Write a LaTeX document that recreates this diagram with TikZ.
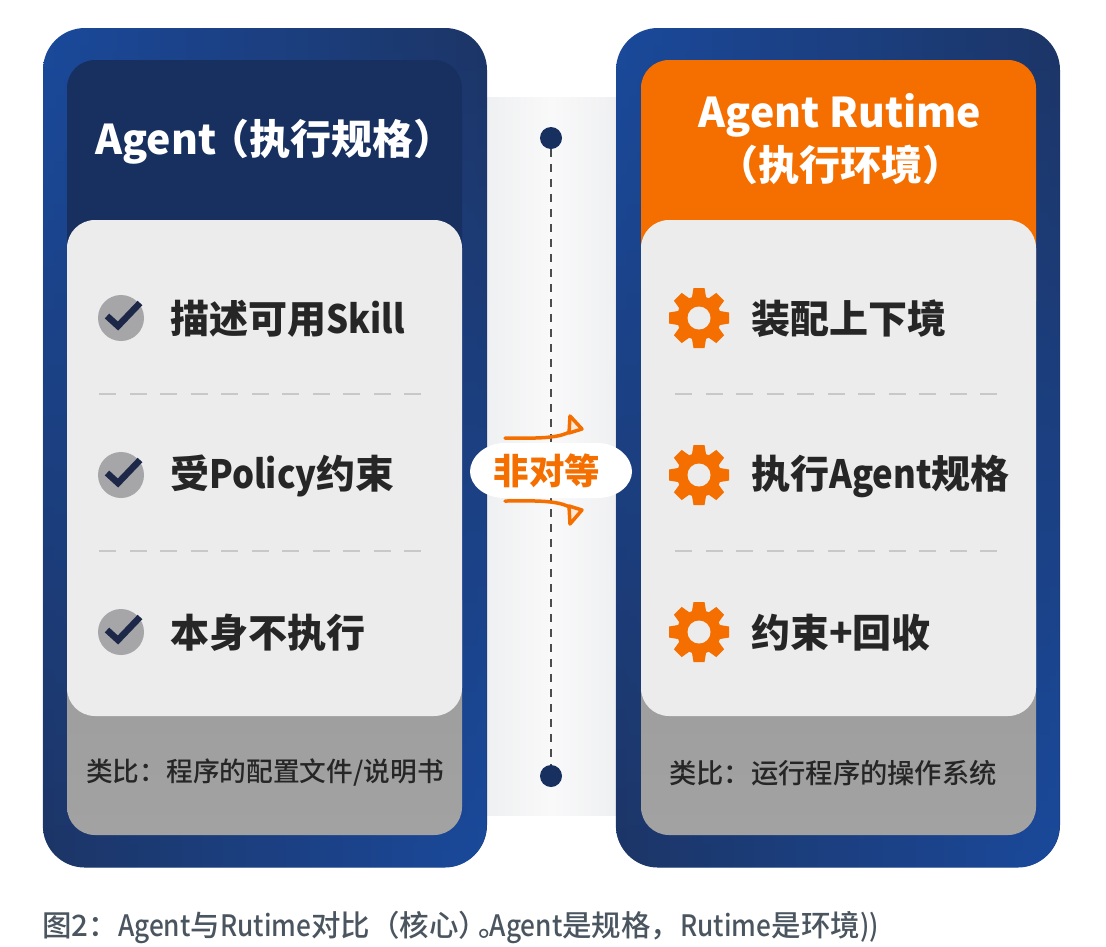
\documentclass[tikz,border=0pt]{standalone}
\usepackage{graphicx}
\usepackage{fontspec}
\setmainfont{Noto Sans CJK SC}
\newfontfamily\medf{Noto Sans CJK SC Medium}
\usetikzlibrary{fadings,positioning}
\definecolor{navy}{HTML}{17305F}
\definecolor{navyb}{HTML}{1D3566}
\definecolor{royal}{HTML}{1A4A9C}
\definecolor{orng}{HTML}{F56F00}
\definecolor{cardc}{HTML}{ECECED}
\definecolor{grayA}{HTML}{8F8F8F}
\definecolor{grayB}{HTML}{A2A2A2}
\definecolor{dashc}{HTML}{C8C8C8}
\definecolor{ink}{HTML}{262626}
\definecolor{capc}{HTML}{4A5560}
\definecolor{checkc}{HTML}{A6A6A8}
\definecolor{checkk}{HTML}{1D2747}
\definecolor{stripc}{HTML}{EFF0F1}
\definecolor{stripm}{HTML}{F9F9FA}
\newcommand\lat[1]{\scalebox{.89}[1]{#1}}
\tikzset{
  box/.style={rectangle,minimum width=#1,inner sep=0pt,outer sep=0pt},
  outertop/.style={box=444pt,minimum height=839pt,rounded corners=42pt,left color=royal,right color=navyb},
  outerbot/.style={box=444pt,minimum height=839pt,rounded corners=42pt,left color=navyb,right color=royal,path fading=north},
  inner/.style={box=395pt,minimum height=775pt,rounded corners=28pt},
  card/.style={box=395pt,minimum height=496pt,rounded corners=28pt,fill=cardc},
  titletext/.style={text=white,font=\bfseries\fontsize{41}{53}\selectfont,align=center},
  itemtext/.style={text=ink,anchor=west,inner sep=0pt,font=\bfseries\fontsize{39}{44}\selectfont},
  notetext/.style={text=ink,anchor=west,inner sep=0pt,font=\medf\fontsize{26.7}{30}\selectfont},
  sep/.style={dashc,line width=2pt,dash pattern=on 17.2pt off 13.3pt},
  dot/.style={circle,fill=navy,minimum size=22pt,inner sep=0pt},
  checkicon/.pic={
    \fill[checkc] (0,0) circle (23);
    \draw[checkk,line width=6.5pt,line join=miter] (-14,-2) -- (-3,8) -- (19,-15);
  },
  gearicon/.pic={
    \fill[orng] (0,0) circle (22);
    \foreach \a in {0,45,...,315}{
      \fill[orng,rotate=\a] (-7.5,-18) -- (-5.5,-30) -- (5.5,-30) -- (7.5,-18) -- cycle;
    }
    \fill[cardc] (0,0) circle (11.5);
  },
  fork/.style={orng,line width=3.5pt,line cap=round},
  forkhead/.style={orng,line width=3.5pt,fill=white!85!orng,line join=round},
}
\begin{document}
\begin{tikzpicture}[x=1pt,y=-1pt]
\useasboundingbox[fill=white] (0,0) rectangle (1106,946);

% centre strip
\node[box=129pt,minimum height=718pt,left color=stripc,right color=stripc,middle color=stripm] (strip) at (551.5,456) {};

% left outer panel
\node[outertop] (lo) at (265,447.5) {};
\node[outerbot] (lob) at (265,447.5) {};
% right outer panel
\node[outertop] (ro) at (838,447.5) {};
\node[outerbot] (rob) at (838,447.5) {};

% inner panels
\begin{scope}
\clip (0,600) rectangle (1106,946);
\node[inner,top color=grayA,bottom color=grayB] (lg) at (264.5,447.5) {};
\node[inner,top color=grayA,bottom color=grayB] (rg) at (838.5,447.5) {};
\end{scope}
\begin{scope}
\clip (0,0) rectangle (1106,300);
\node[inner,fill=navy] (lh) at (264.5,447.5) {};
\node[inner,fill=orng] (rh) at (838.5,447.5) {};
\end{scope}
\node[card] (lc) at (264.5,468) {};
\node[card] (rc) at (838.5,468) {};

% titles
\node[titletext,anchor=west,inner sep=0pt] (t1) at (95,142) {Agent\hspace{-8pt}（执行规格）};
\node[titletext] (t2) at (840,139) {Agent Rutime\\（执行环境）};

% left items
\pic at (121,318) {checkicon};
\pic at (121,475) {checkicon};
\pic at (121,632) {checkicon};
\node[itemtext] (a1) at (170,319) {描述可用\lat{Skill}};
\node[itemtext] (a2) at (170,476) {受\lat{Policy}约束};
\node[itemtext] (a3) at (170,633) {本身不执行};
\draw[sep] (99,394) -- (421,394);
\draw[sep] (99,551) -- (421,551);

% right items
\pic at (699,318) {gearicon};
\pic at (699,475) {gearicon};
\pic at (699,632) {gearicon};
\node[itemtext] (b1) at (751,319) {装配上下境};
\node[itemtext] (b2) at (751,476) {执行\lat{Agent}规格};
\node[itemtext] (b3) at (751,633) {约束+回收};
\draw[sep] (675,394) -- (998,394);
\draw[sep] (675,551) -- (998,551);

% notes
\node[notetext] (n1) at (86,773) {类比：程序的配置文件/说明书};
\node[notetext,font=\medf\fontsize{27.3}{30}\selectfont] (n2) at (669,773) {类比：运行程序的操作系统};

% centre line
\node[dot] (d1) at (551,138) {};
\node[dot] (d2) at (551,776) {};
\draw[black!70,line width=2.5pt,dash pattern=on 8pt off 7pt] (d1) -- (d2);

% bubble
\fill[white] (505,443) -- (597,443) .. controls (618,443) and (632,458) .. (632,471.5)
  .. controls (632,485) and (618,498) .. (597,498) -- (505,498)
  .. controls (484,498) and (470,485) .. (470,471.5) .. controls (470,458) and (484,443) .. (505,443) -- cycle;
\node[text=orng,font=\bfseries\fontsize{35.5}{40}\selectfont,inner sep=0pt] (lab) at (547,471) {非对等};

% arrows
\coordinate (u0) at (505,438);
\coordinate (u1) at (574,428);
\coordinate (l0) at (505,501);
\coordinate (l1) at (574,511);
\draw[fork] (u0) .. controls (530,438) and (565,440) .. (u1);
\draw[forkhead] (570,416) -- (582,429) -- (569,433) -- cycle;
\draw[fork] (l0) .. controls (530,501) and (565,499) .. (l1);
\draw[forkhead] (570,524) -- (582,510) -- (569,506) -- cycle;

% caption
\node[anchor=west,inner sep=0pt,text=capc,font=\medf\fontsize{29.5}{33}\selectfont] (cap) at (42,927) {图2：\lat{Agent}与\lat{Rutime}对比（核心）\hspace{-10pt}。\hspace{-18pt}\lat{Agent}是规格，\lat{Rutime}是环境\lat{))}};
\end{tikzpicture}
\end{document}
